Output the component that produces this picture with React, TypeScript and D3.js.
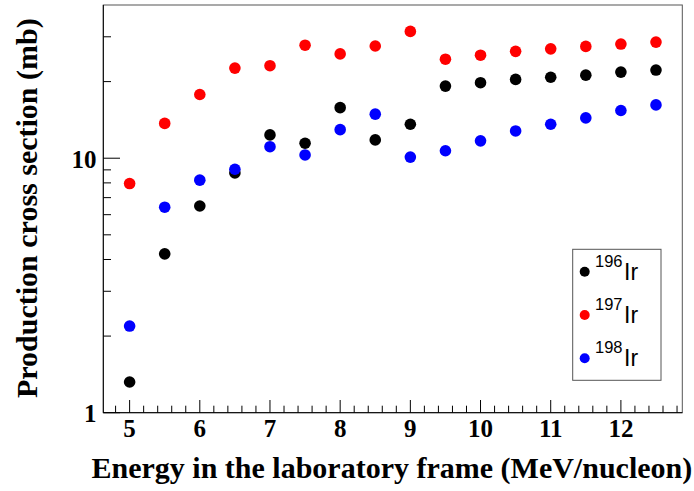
import React, { useEffect } from "react";
import * as d3 from "d3";

// Beam energies (MeV/nucleon)
const energies = [5, 5.5, 6, 6.5, 7, 7.5, 8, 8.5, 9, 9.5, 10, 10.5, 11, 11.5, 12, 12.5];

// Production cross sections (mb) for each iridium isotope
const ir196 = [1.32, 4.21, 6.49, 8.75, 12.35, 11.45, 15.8, 11.8, 13.6, 19.2, 19.8, 20.4, 20.8, 21.2, 21.8, 22.2];
const ir197 = [7.95, 13.7, 17.8, 22.6, 23.1, 27.8, 25.7, 27.6, 31.5, 24.5, 25.4, 26.3, 26.9, 27.5, 28.1, 28.6];
const ir198 = [2.19, 6.42, 8.2, 9.05, 11.1, 10.3, 12.95, 14.9, 10.1, 10.7, 11.7, 12.8, 13.6, 14.4, 15.4, 16.2];

const seriesNames = ["196", "197", "198"];
const seriesColors = ["#000000", "#ff0000", "#0000ff"];

const xTickValues = [5, 6, 7, 8, 9, 10, 11, 12];
const yTickValues = [1, 10];

const W = 694;
const H = 491;
const L = 103.3;
const R = 682.3;
const T = 5;
const B = 412.7;

const serif = "'Liberation Serif', 'Times New Roman', serif";
const sans = "'Liberation Sans', Arial, sans-serif";

export default function App() {
  useEffect(() => {
    document.body.style.margin = "0";
  }, []);

  const x = d3.scaleLinear().domain([4.625, 12.875]).range([L, R]);
  const y = d3.scaleLog().domain([1, 40]).range([B, T]);

  const xMinor = d3.range(4.8, 12.85, 0.2).map((v) => Math.round(v * 10) / 10).filter((v) => Math.abs(v - Math.round(v)) > 1e-6);
  const yMinor = [2, 3, 4, 5, 6, 7, 8, 9, 20, 30];

  const series = [ir196, ir197, ir198];

  return (
    <svg width={W} height={H} style={{ display: "block" }}>
      <rect x={0} y={0} width={W} height={H} fill="#ffffff" />
      {/* frame */}
      <rect x={L} y={T} width={R - L} height={B - T} fill="none" stroke="#555" strokeWidth={1} />
      <line x1={L} y1={T} x2={L} y2={B} stroke="#000" strokeWidth={1} />
      <line x1={L} y1={B} x2={R} y2={B} stroke="#000" strokeWidth={1} />

      {/* x ticks */}
      {xTickValues.map((v) => (
        <g key={"xt" + v}>
          <line x1={x(v)} x2={x(v)} y1={B} y2={B - 12.7} stroke="#000" />
          <text x={x(v)} y={437} textAnchor="middle" fontFamily={serif} fontWeight="bold" fontSize={25}>
            {v}
          </text>
        </g>
      ))}
      {xMinor.map((v) => (
        <line key={"xm" + v} x1={x(v)} x2={x(v)} y1={B} y2={B - 7} stroke="#000" />
      ))}

      {/* y ticks */}
      {yTickValues.map((v) => (
        <g key={"yt" + v}>
          <line x1={L} x2={L + 16.7} y1={y(v)} y2={y(v)} stroke="#000" />
          <text x={96.5} y={y(v) + 9.5} textAnchor="end" fontFamily={serif} fontWeight="bold" fontSize={25}>
            {v}
          </text>
        </g>
      ))}
      {yMinor.map((v) => (
        <line key={"ym" + v} x1={L} x2={L + 7.7} y1={y(v)} y2={y(v)} stroke="#000" />
      ))}

      {/* axis titles */}
      <text x={91.5} y={478.3} fontFamily={serif} fontWeight="bold" fontSize={30}>
        Energy in the laboratory frame (MeV/nucleon)
      </text>
      <text
        transform={`translate(37,398) rotate(-90)`}
        fontFamily={serif}
        fontWeight="bold"
        fontSize={30}
      >
        Production cross section (mb)
      </text>

      {/* data points */}
      {series.map((vals, si) =>
        vals.map((v, i) => (
          <circle key={si + "-" + i} cx={x(energies[i])} cy={y(v)} r={5.8} fill={seriesColors[si]} />
        ))
      )}

      {/* legend */}
      <rect x={572.7} y={249.3} width={88.3} height={131} fill="#fff" stroke="#555" strokeWidth={1} />
      {seriesNames.map((n, i) => {
        const cy = 271.7 + i * 43.3;
        return (
          <g key={"lg" + n}>
            <circle cx={584.7} cy={cy} r={5} fill={seriesColors[i]} />
            <text x={595} y={cy - 5} fontFamily={sans} fontSize={16.5}>
              {n}
            </text>
            <text x={624} y={cy + 7.8} fontFamily={sans} fontSize={23}>
              Ir
            </text>
          </g>
        );
      })}
    </svg>
  );
}
